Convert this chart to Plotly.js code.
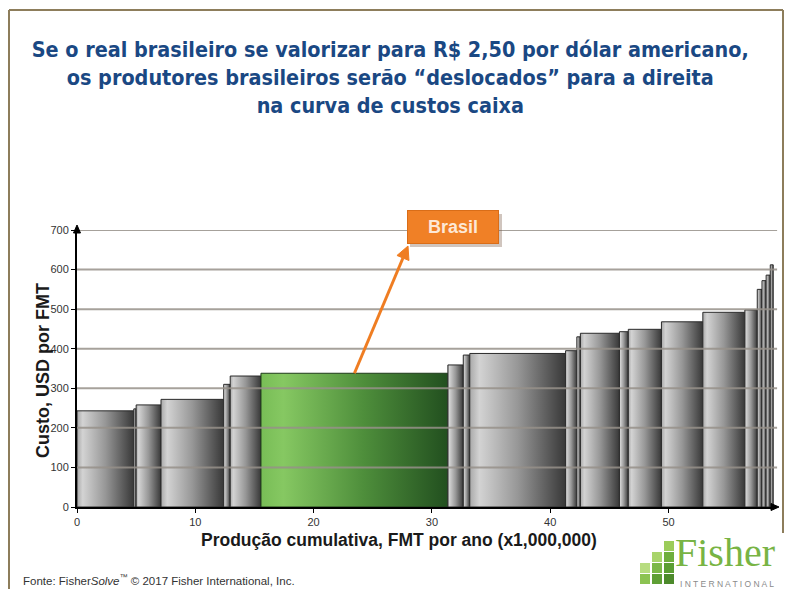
<!DOCTYPE html>
<html>
<head>
<meta charset="utf-8">
<script src="https://cdn.plot.ly/plotly-3.0.1.min.js"></script>
<style>
  html, body { margin: 0; padding: 0; background: #ffffff; }
  #chart { width: 790px; height: 589px; }
</style>
</head>
<body>
<div id="chart"></div>
<script>
// ---------- DATA ----------
// Cumulative production boundaries (million FMT/yr): bar i spans edges[i]..edges[i+1]
const cumulativeEdges = [0, 4.8, 5.0, 7.1, 12.4, 12.95, 15.55, 31.35, 32.65, 33.2, 41.3, 42.25, 42.55, 45.85, 46.6, 49.4, 52.9, 56.45, 57.5, 57.9, 58.25, 58.6, 58.85];
// Cash cost (USD per FMT) of each bar
const cashCost = [243, 248, 258, 272, 310, 331, 338, 359, 384, 388, 395, 430, 439, 443, 449, 468, 492, 498, 550, 572, 586, 612];
// Region label of each bar ('' = other producers)
const regionLabel = ['', '', '', '', '', '', 'Brasil', '', '', '', '', '', '', '', '', '', '', '', '', '', '', ''];
const xTickVals = [0, 10, 20, 30, 40, 50];
const xTickText = ['0', '10', '20', '30', '40', '50'];
const yTickVals = [0, 100, 200, 300, 400, 500, 600, 700];
const yTickText = ['0', '100', '200', '300', '400', '500', '600', '700'];

const titleLines = [
  'Se o real brasileiro se valorizar para R$ 2,50 por dólar americano,',
  'os produtores brasileiros serão “deslocados” para a direita',
  'na curva de custos caixa'
];
const xTitle = 'Produção cumulativa, FMT por ano (x1,000,000)';
const yTitle = 'Custo, USD por FMT';
const sourceText = 'Fonte: Fisher<i>Solve</i><sup>™</sup> © 2017 Fisher International, Inc.';

// ---------- LAYOUT GEOMETRY ----------
const W = 790, H = 589;
const M = { l: 77, r: 15, t: 230, b: 82 };
const PW = W - M.l - M.r, PH = H - M.t - M.b;
const xRange = [0, 59], yRange = [0, 700];
// pixel -> paper helpers for decorations
const px = p => (p - M.l) / PW;
const py = p => (M.t + PH - p) / PH;
// data -> pixel helpers
const xPix = v => M.l + (v - xRange[0]) / (xRange[1] - xRange[0]) * PW;
const yPix = v => M.t + PH - (v - yRange[0]) / (yRange[1] - yRange[0]) * PH;

const grayScale = [[0, '#a9a9a9'], [0.1, '#d3d3d3'], [0.5, '#979797'], [1, '#383838']];
const greenScale = [[0, '#78bd56'], [0.12, '#86c862'], [0.55, '#4e8e3b'], [1, '#224f1f']];

// ---------- TRACES: one filled rectangle per producer bar ----------
const traces = cashCost.map((v, i) => {
  const l = cumulativeEdges[i], r = cumulativeEdges[i + 1];
  const hi = regionLabel[i] !== '';
  return {
    type: 'scatter',
    mode: 'lines',
    name: hi ? regionLabel[i] : 'Produtor ' + (i + 1),
    x: [l, l, r, r, l],
    y: [0, v, v, 0, 0],
    fill: 'toself',
    fillgradient: { type: 'horizontal', colorscale: hi ? greenScale : grayScale },
    line: { color: hi ? '#1e3a1a' : '#2a2a2a', width: 1 },
    hoverinfo: 'skip',
    showlegend: false
  };
});

// ---------- SHAPES ----------
const shapes = [];
// horizontal grid lines drawn above the bars (as in the reference)
yTickVals.filter(v => v > 0).forEach(v => {
  shapes.push({ type: 'line', xref: 'paper', yref: 'y', x0: 0, x1: 1.003, y0: v, y1: v,
    line: { color: 'rgba(150,144,138,0.85)', width: 2 }, layer: 'above' });
});
// page frame
const frameColor = '#8d7d5b';
shapes.push({ type: 'line', xref: 'paper', yref: 'paper', x0: px(9), x1: px(783), y0: py(10), y1: py(10), line: { color: frameColor, width: 2 } });
shapes.push({ type: 'line', xref: 'paper', yref: 'paper', x0: px(9), x1: px(9), y0: py(10), y1: py(592), line: { color: frameColor, width: 2 } });
shapes.push({ type: 'line', xref: 'paper', yref: 'paper', x0: px(783), x1: px(783), y0: py(10), y1: py(533), line: { color: frameColor, width: 2 } });
// label shadow
shapes.push({ type: 'rect', xref: 'paper', yref: 'paper', x0: px(410), x1: px(502), y0: py(214), y1: py(247),
  fillcolor: 'rgba(120,90,70,0.35)', line: { width: 0 }, layer: 'above' });

// triangle helper (pixel coords -> paper path)
function triPath(tipX, tipY, fromX, fromY, len, half) {
  const ddx = tipX - fromX, ddy = tipY - fromY, n = Math.hypot(ddx, ddy);
  const ux = ddx / n, uy = ddy / n;
  const bx = tipX - ux * len, by = tipY - uy * len;
  const c1 = [bx - uy * half, by + ux * half], c2 = [bx + uy * half, by - ux * half];
  return { path: 'M' + px(tipX) + ',' + py(tipY) + ' L' + px(c1[0]) + ',' + py(c1[1]) + ' L' + px(c2[0]) + ',' + py(c2[1]) + ' Z', base: [bx, by] };
}
// arrow from the Brasil bar to its label
const hiIdx = regionLabel.findIndex(s => s !== '');
const hiMid = (cumulativeEdges[hiIdx] + cumulativeEdges[hiIdx + 1]) / 2;
const tailX = xPix(hiMid), tailY = yPix(cashCost[hiIdx]);
const tip = triPath(408, 246, tailX, tailY, 13, 6.5);
const orange = '#ef7d22';
shapes.push({ type: 'line', xref: 'paper', yref: 'paper', x0: px(tailX), y0: py(tailY), x1: px(tip.base[0]), y1: py(tip.base[1]),
  line: { color: orange, width: 3 }, layer: 'above' });
shapes.push({ type: 'path', xref: 'paper', yref: 'paper', path: tip.path, fillcolor: orange, line: { color: orange, width: 1 }, layer: 'above' });
// axis arrowheads
const yArrow = triPath(77, 225, 77, 240, 8, 3.5);
const xArrow = triPath(779, 507, 760, 507, 8, 3.5);
[yArrow, xArrow].forEach(a => shapes.push({ type: 'path', xref: 'paper', yref: 'paper', path: a.path, fillcolor: '#000', line: { color: '#000', width: 1 }, layer: 'above' }));

// logo blocks
const logoCells = [
  [664, 541, '#9ccc5a'],
  [652, 552, '#a8d46a'], [664, 552, '#6fae3c'],
  [640, 563, '#b7dc80'], [652, 563, '#7cb848'], [664, 563, '#5b9e33'],
  [640, 574, '#8cc352'], [652, 574, '#5f9f35'], [664, 574, '#4c8a2b']
];
logoCells.forEach(c => {
  shapes.push({ type: 'rect', xref: 'paper', yref: 'paper', x0: px(c[0]), x1: px(c[0] + 10), y0: py(c[1]), y1: py(c[1] + 10),
    fillcolor: c[2], line: { width: 0 } });
});

// ---------- ANNOTATIONS ----------
const annotations = [
  // label box
  { xref: 'paper', yref: 'paper', x: px(453), y: py(227), xanchor: 'center', yanchor: 'middle',
    text: '<b>' + regionLabel[hiIdx] + '</b>', showarrow: false, width: 88, height: 30, borderpad: 1,
    bgcolor: '#f08026', bordercolor: '#d96d18', borderwidth: 1,
    font: { family: 'Liberation Sans, Arial, sans-serif', size: 18, color: '#fde8d6' } },
  // x-axis title
  { xref: 'paper', yref: 'paper', x: px(399), y: py(540), xanchor: 'center', yanchor: 'middle', showarrow: false,
    text: '<b>' + xTitle + '</b>', font: { family: 'Liberation Sans, Arial, sans-serif', size: 17.5, color: '#1a1a1a' } },
  // y-axis title
  { xref: 'paper', yref: 'paper', x: px(43), y: py(371), xanchor: 'center', yanchor: 'middle', showarrow: false, textangle: -90,
    text: '<b>' + yTitle + '</b>', font: { family: 'Liberation Sans, Arial, sans-serif', size: 18, color: '#1a1a1a' } },
  // source
  { xref: 'paper', yref: 'paper', x: px(21), y: py(580), xanchor: 'left', yanchor: 'middle', showarrow: false,
    text: sourceText, font: { family: 'Liberation Sans, Arial, sans-serif', size: 11.5, color: '#333333' } },
  // logo text
  { xref: 'paper', yref: 'paper', x: px(777), y: py(577), xanchor: 'right', yanchor: 'bottom', showarrow: false,
    text: 'Fisher', font: { family: 'Liberation Serif, Times New Roman, serif', size: 40, color: '#78b444' } },
  { xref: 'paper', yref: 'paper', x: px(776), y: py(577), xanchor: 'right', yanchor: 'top', showarrow: false,
    text: 'I N T E R N A T I O N A L', font: { family: 'Liberation Sans, Arial, sans-serif', size: 8.5, color: '#8a8a8a' } }
];

const layout = {
  width: W, height: H,
  margin: M,
  paper_bgcolor: '#ffffff', plot_bgcolor: '#ffffff',
  showlegend: false,
  title: {
    text: titleLines.map(s => '<b>' + s + '</b>').join('<br>'),
    font: { family: 'DejaVu Sans Condensed, Liberation Sans, sans-serif', size: 21.4, color: '#1a4883' },
    xref: 'container', yref: 'container', x: 0.494, xanchor: 'center', y: 1 - 57 / H, yanchor: 'top'
  },
  xaxis: {
    range: xRange, showgrid: false, zeroline: false,
    tickmode: 'array', tickvals: xTickVals, ticktext: xTickText,
    showline: true, linecolor: '#000', linewidth: 2,
    ticks: 'outside', ticklen: 4, tickwidth: 1, tickcolor: '#000',
    tickfont: { family: 'Liberation Sans, Arial, sans-serif', size: 11, color: '#333' },
    fixedrange: true
  },
  yaxis: {
    range: yRange, showgrid: false, zeroline: false,
    tickmode: 'array', tickvals: yTickVals, ticktext: yTickText,
    showline: true, linecolor: '#000', linewidth: 2,
    ticks: 'outside', ticklen: 4, tickwidth: 1, tickcolor: '#000',
    tickfont: { family: 'Liberation Sans, Arial, sans-serif', size: 11, color: '#333' },
    fixedrange: true
  },
  shapes: shapes,
  annotations: annotations
};

Plotly.newPlot('chart', traces, layout, { displayModeBar: false, staticPlot: true });
</script>
</body>
</html>
